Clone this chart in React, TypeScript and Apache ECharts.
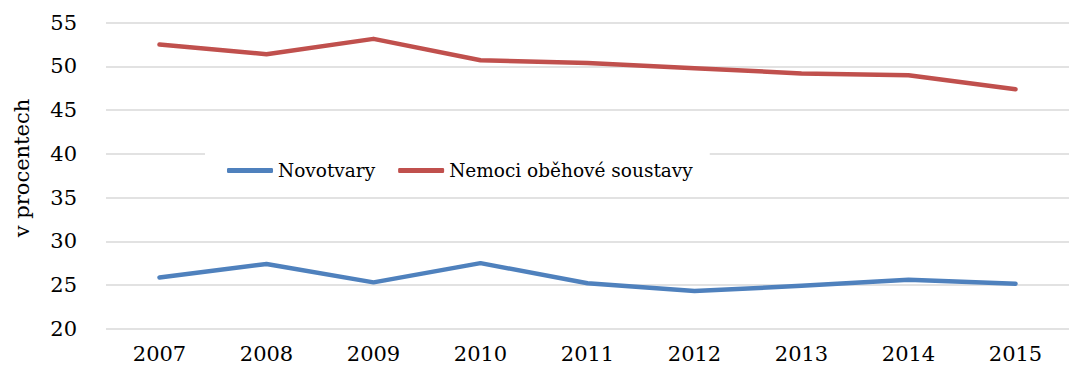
import React, { useEffect, useRef } from "react";
import * as echarts from "echarts";

// Years on the category axis
const years = ["2007", "2008", "2009", "2010", "2011", "2012", "2013", "2014", "2015"];

// Share of deaths by cause, in percent
const novotvary = [25.85, 27.4, 25.3, 27.5, 25.2, 24.3, 24.9, 25.6, 25.15];
const nemociObehoveSoustavy = [52.5, 51.4, 53.15, 50.7, 50.4, 49.8, 49.2, 49.0, 47.4];

const seriesNames = ["Novotvary", "Nemoci oběhové soustavy"];
const seriesColors = ["#4F81BD", "#C0504D"];
const yAxisTitle = "v procentech";

const FONT = "DejaVu Serif";

export default function App() {
  const ref = useRef<HTMLDivElement>(null);

  useEffect(() => {
    if (!ref.current) return;
    const chart = echarts.init(ref.current, undefined, { renderer: "svg" });
    chart.setOption({
      animation: false,
      backgroundColor: "#ffffff",
      textStyle: { fontFamily: FONT, color: "#000" },
      grid: { left: 106, right: -12, top: 22.7, bottom: 43.3, containLabel: false },
      xAxis: {
        type: "category",
        data: years,
        boundaryGap: true,
        axisLine: { show: false },
        axisTick: { show: false },
        axisLabel: { fontFamily: FONT, fontSize: 21, color: "#000", margin: 15 },
      },
      yAxis: {
        type: "value",
        min: 20,
        max: 55,
        interval: 5,
        axisLine: { show: false },
        axisTick: { show: false },
        axisLabel: { fontFamily: FONT, fontSize: 21, color: "#000", margin: 29 },
        splitLine: { lineStyle: { color: "#d9d9d9", width: 1.5 } },
      },
      legend: {
        left: 205,
        top: 150,
        backgroundColor: "#ffffff",
        padding: [11, 17, 11, 22],
        itemGap: 23,
        itemWidth: 46,
        itemHeight: 5,
        icon: "roundRect",
        textStyle: { fontFamily: FONT, fontSize: 18.5, color: "#000" },
        data: seriesNames,
      },
      graphic: [
        {
          type: "text",
          x: 22,
          y: 168,
          rotation: Math.PI / 2,
          style: {
            text: yAxisTitle,
            fontFamily: FONT,
            fontSize: 21,
            fill: "#000",
            align: "center",
            verticalAlign: "middle",
          },
        },
      ],
      series: [
        {
          name: seriesNames[0],
          type: "line",
          data: novotvary,
          symbol: "none",
          lineStyle: { color: seriesColors[0], width: 4.5, cap: "round", join: "round" },
          itemStyle: { color: seriesColors[0] },
        },
        {
          name: seriesNames[1],
          type: "line",
          data: nemociObehoveSoustavy,
          symbol: "none",
          lineStyle: { color: seriesColors[1], width: 4.5, cap: "round", join: "round" },
          itemStyle: { color: seriesColors[1] },
        },
      ],
    });
    return () => chart.dispose();
  }, []);

  return (
    <div
      ref={ref}
      style={{ position: "fixed", left: 0, top: 0, width: 1069, height: 372 }}
    />
  );
}
